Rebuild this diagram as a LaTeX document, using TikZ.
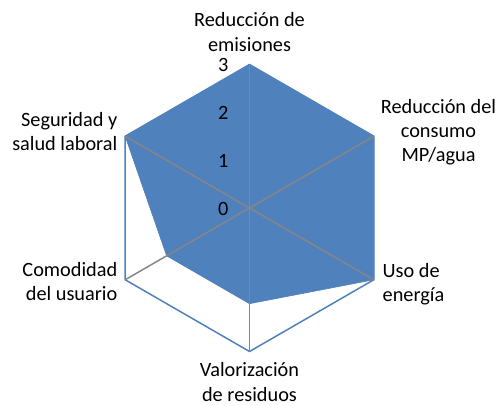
\documentclass[tikz,border=0pt]{standalone}
\usepackage{fontspec}
\setmainfont{Carlito}
\usetikzlibrary{calc}
\definecolor{serieblue}{HTML}{4F81BD}
\definecolor{axisgray}{HTML}{868686}
\definecolor{labelblack}{HTML}{000000}
\begin{document}
\begin{tikzpicture}[x=1pt,y=-1pt,
  lbl/.style={inner sep=0pt, font=\fontsize{20.3}{24.2}\selectfont, text=labelblack},
  tick/.style={inner sep=0pt, font=\fontsize{20.3}{24}\selectfont, anchor=east, text=labelblack},
  gridhex/.style={draw=serieblue, line width=1.5pt, line join=miter},
  axisline/.style={draw=axisgray, line width=1.5pt},
  seriesfill/.style={fill=serieblue, draw=serieblue, line width=0.6pt, line join=miter}]
\useasboundingbox (0,0) rectangle (503,405);
% centre and outer vertices (value 3)
\coordinate (C) at (249.5,208);
\coordinate (V1) at (249.5,64.5);
\coordinate (V2) at (373.8,136.25);
\coordinate (V3) at (373.8,279.75);
\coordinate (V4) at (249.5,351.5);
\coordinate (V5) at (125.2,279.75);
\coordinate (V6) at (125.2,136.25);
% data points
\coordinate (D1) at (V1);
\coordinate (D2) at (V2);
\coordinate (D3) at (V3);
\coordinate (D4) at ($(C)!0.6667!(V4)$);
\coordinate (D5) at ($(C)!0.6667!(V5)$);
\coordinate (D6) at (V6);
% outer grid hexagon
\draw[gridhex] (V1) -- (V2) -- (V3) -- (V4) -- (V5) -- (V6) -- cycle;
% series area
\path[seriesfill] (D1) -- (D2) -- (D3) -- (D4) -- (D5) -- (D6) -- cycle;
% spokes
\foreach \v in {V1,V2,V3,V4,V5,V6} \draw[axisline] (C) -- (\v);
% tick labels
\node[tick] (t3) at (228.5,65) {3};
\node[tick] (t2) at (228.5,113) {2};
\node[tick] (t1) at (228.5,161) {1};
\node[tick] (t0) at (228.5,208.5) {0};
% category labels (base anchor = baseline of last line)
\node[lbl, align=center, anchor=base] (l1) at (249.5,51) {Reducción de\\emisiones};
\node[lbl, align=center, anchor=base] (l2) at (438.5,161.5) {Reducción del\\consumo\\MP/agua};
\node[lbl, align=left, anchor=base west] (l3) at (382.5,301.5) {Uso de\\energía};
\node[lbl, align=center, anchor=base] (l4) at (249.5,401) {Valorización\\de residuos};
\node[lbl, align=right, anchor=base east] (l5) at (117.5,300.7) {Comodidad\\del usuario};
\node[lbl, align=right, anchor=base east] (l6) at (117.5,150.7) {Seguridad y\\salud laboral};
\end{tikzpicture}
\end{document}
